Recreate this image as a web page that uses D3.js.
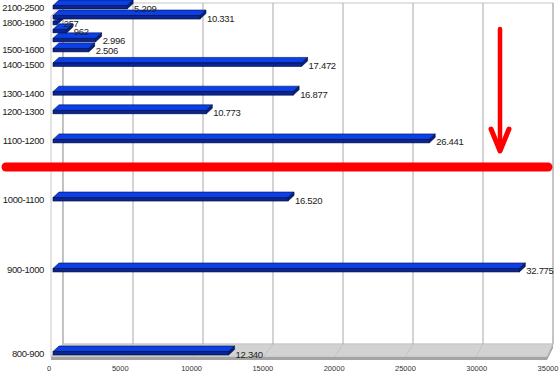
<!DOCTYPE html>
<html>
<head>
<meta charset="utf-8">
<script src="https://cdn.jsdelivr.net/npm/d3@7"></script>
<style>
  body { margin: 0; background: #fff; }
  text { font-family: "Liberation Sans", Arial, sans-serif; }
</style>
</head>
<body>
<div id="chart"></div>
<script>
// bars listed bottom to top
const periods = ['800-900', '900-1000', '1000-1100', '1100-1200', '1200-1300', '1300-1400',
                 '1400-1500', '1500-1600', '1600-1700', '1700-1800', '1800-1900', '1900-2100', '2100-2500'];
const counts = [12340, 32775, 16520, 26441, 10773, 16877, 17472, 2506, 2996, 962, 257, 10331, 5209];
// vertical level of each bar on the (hidden) 0-100 depth axis
const levels = [0, 24, 44.5, 61.3, 69.7, 75.1, 83.4, 87.6, 90.5, 93.1, 95.4, 97.1, 100];
const shownLabels = ['800-900', '900-1000', '1000-1100', '1100-1200', '1200-1300', '1300-1400',
                     '1400-1500', '1500-1600', '1800-1900', '2100-2500'];
const xTicks = [0, 5000, 10000, 15000, 20000, 25000, 30000, 35000];

var width = 560;
var height = 374;

var svg = d3.select('#chart')
    .append('svg')
    .attr('width', width)
    .attr('height', height);

let bars = periods.map(function(p, i) {
    return {period: p, count: counts[i], level: levels[i]};
});

// front / back / bar planes of the 3D box
let x_front = d3.scaleLinear().domain([0, 35000]).range([51, 547]);
let x_back = d3.scaleLinear().domain([0, 35000]).range([63, 553]);
let x_bar = d3.scaleLinear().domain([0, 35000]).range([53, 551]);
let x_tick = d3.scaleLinear().domain([0, 35000]).range([49, 548]);
let y_scale = d3.scaleLinear().domain([0, 100]).range([355, 9]);

const wallTop = 3, floorBack = 344, floorFront = 357;

let fmt = d3.formatLocale({decimal: ',', thousands: '.', grouping: [3], currency: ['', '']}).format(',d');

// left wall
svg.append('path')
    .attr('d', 'M' + x_front(0) + ',' + (wallTop + 13) + 'L' + x_back(0) + ',' + wallTop +
               'L' + x_back(0) + ',' + floorBack + 'L' + x_front(0) + ',' + floorFront + 'Z')
    .attr('fill', '#fff')
    .attr('stroke', '#c8c8c8');

// back wall
svg.append('rect')
    .attr('x', x_back(0))
    .attr('y', wallTop)
    .attr('width', x_back(35000) - x_back(0))
    .attr('height', floorBack - wallTop)
    .attr('fill', '#fff')
    .attr('stroke', '#c8c8c8');

// floor
svg.append('path')
    .attr('d', 'M' + x_back(0) + ',' + floorBack + 'L' + x_back(35000) + ',' + floorBack +
               'L' + x_front(35000) + ',' + floorFront + 'L' + x_front(0) + ',' + floorFront + 'Z')
    .attr('fill', '#d2d2d2')
    .attr('stroke', '#bdbdbd')
    .attr('stroke-width', 0.6);

svg.append('path')
    .attr('d', 'M' + x_front(0) + ',' + floorFront + 'L' + x_front(35000) + ',' + floorFront +
               'L' + x_back(35000) + ',' + floorBack + 'L' + x_back(35000) + ',' + (floorBack + 4) +
               'L' + x_front(35000) + ',' + (floorFront + 3) + 'L' + x_front(0) + ',' + (floorFront + 3) + 'Z')
    .attr('fill', '#a4a4a4');

// gridlines on back wall, continued across the floor
svg.selectAll('.grid')
    .data(xTicks)
    .enter()
    .append('line')
    .attr('class', 'grid')
    .attr('x1', d => x_back(d))
    .attr('x2', d => x_back(d))
    .attr('y1', wallTop)
    .attr('y2', floorBack)
    .attr('stroke', '#a8a8a8');

svg.selectAll('.floorgrid')
    .data(xTicks)
    .enter()
    .append('line')
    .attr('class', 'floorgrid')
    .attr('x1', d => x_back(d))
    .attr('x2', d => x_front(d))
    .attr('y1', floorBack)
    .attr('y2', floorFront)
    .attr('stroke', '#bcbcbc')
    .attr('stroke-width', 0.7);

// 3D bars
let bar = svg.selectAll('.bar')
    .data(bars)
    .enter()
    .append('g')
    .attr('class', 'bar');

const frontH = 3.5, depthX = 6, depthY = 5.5;

bar.append('path')
    .attr('d', function(d) {
        let x0 = x_bar(0), x1 = x_bar(d.count), yb = y_scale(d.level), yt = yb - frontH;
        return 'M' + x0 + ',' + yt + 'L' + x1 + ',' + yt + 'L' + (x1 + depthX) + ',' + (yt - depthY) +
               'L' + (x0 + depthX) + ',' + (yt - depthY) + 'Z';
    })
    .attr('fill', '#0b3fe8')
    .attr('stroke', '#001050')
    .attr('stroke-width', 0.6);

bar.append('path')
    .attr('d', function(d) {
        let x1 = x_bar(d.count), yb = y_scale(d.level), yt = yb - frontH;
        return 'M' + x1 + ',' + yt + 'L' + (x1 + depthX) + ',' + (yt - depthY) +
               'L' + (x1 + depthX) + ',' + (yb - depthY) + 'L' + x1 + ',' + yb + 'Z';
    })
    .attr('fill', '#06207a')
    .attr('stroke', '#001050')
    .attr('stroke-width', 0.6);

bar.append('rect')
    .attr('x', x_bar(0))
    .attr('y', d => y_scale(d.level) - frontH)
    .attr('width', d => x_bar(d.count) - x_bar(0))
    .attr('height', frontH)
    .attr('fill', '#0a2490')
    .attr('stroke', '#000c3a')
    .attr('stroke-width', 0.6);

bar.append('text')
    .attr('x', d => x_bar(d.count) + 7)
    .attr('y', d => y_scale(d.level) + 2.5)
    .attr('font-size', '9.5px')
    .attr('letter-spacing', '-0.3px')
    .attr('fill', '#222')
    .text(d => fmt(d.count));

// category labels (only the ones the original shows)
svg.selectAll('.cat')
    .data(bars.filter(d => shownLabels.includes(d.period)))
    .enter()
    .append('text')
    .attr('class', 'cat')
    .attr('x', 44)
    .attr('y', d => y_scale(d.level) + 1.5)
    .attr('text-anchor', 'end')
    .attr('font-size', '9.5px')
    .attr('letter-spacing', '-0.4px')
    .attr('fill', '#222')
    .text(d => d.period);

// x tick labels
svg.selectAll('.tick')
    .data(xTicks)
    .enter()
    .append('text')
    .attr('class', 'tick')
    .attr('x', d => x_tick(d))
    .attr('y', 371)
    .attr('text-anchor', 'middle')
    .attr('font-size', '7.5px')
    .attr('fill', '#333')
    .text(d => d);

// red annotation: cut line and arrow
svg.append('line')
    .attr('x1', 6)
    .attr('x2', 548)
    .attr('y1', 167)
    .attr('y2', 167)
    .attr('stroke', '#ff0000')
    .attr('stroke-width', 9)
    .attr('stroke-linecap', 'round');

svg.append('line')
    .attr('x1', 500)
    .attr('x2', 500)
    .attr('y1', 29)
    .attr('y2', 150)
    .attr('stroke', '#ff0000')
    .attr('stroke-width', 4.5)
    .attr('stroke-linecap', 'round');

svg.append('path')
    .attr('d', 'M491,129L500,151L509,129')
    .attr('fill', 'none')
    .attr('stroke', '#ff0000')
    .attr('stroke-width', 5)
    .attr('stroke-linecap', 'round')
    .attr('stroke-linejoin', 'round');
</script>
</body>
</html>
